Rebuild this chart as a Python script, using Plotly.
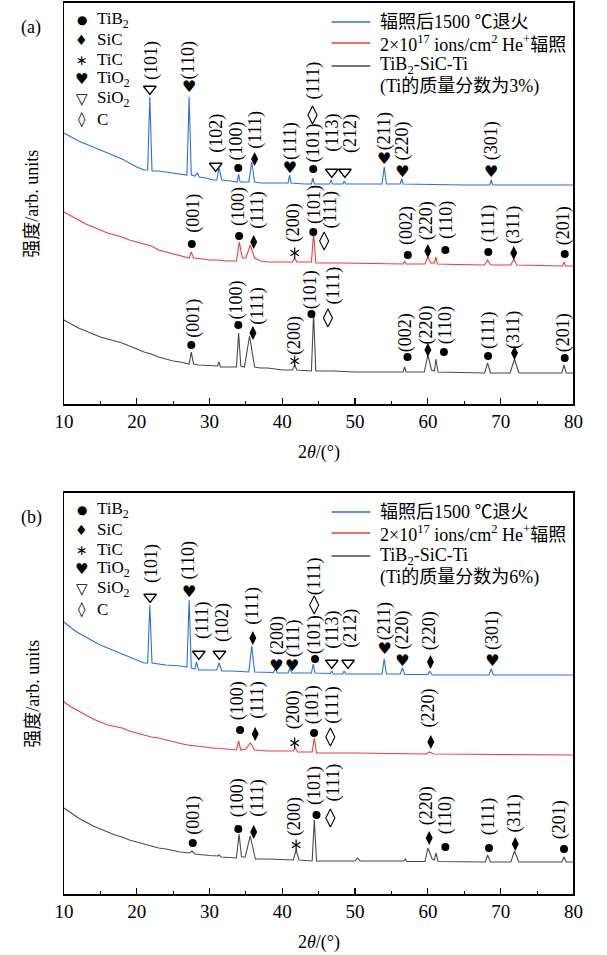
import plotly.graph_objects as go

# ---------------- data (2theta in degrees, intensity in arb. units, curves already offset) ----------------
# panel (a): TiB2-SiC-Ti, 3 wt% Ti
a_blue_t = [10, 11, 12, 13, 14, 15, 16, 17, 18, 19, 20, 21, 21.5, 21.8, 22.1, 23, 24, 25, 26, 26.9, 27.2, 27.5,
            28.0, 28.3, 28.6, 29.5, 30.5, 31.0, 31.3, 31.7, 33, 33.8, 34.0, 34.2, 35.4, 35.8, 36.2, 37, 39, 40.8,
            41.0, 41.2, 43, 44.0, 44.2, 44.4, 46.5, 46.7, 46.9, 48.3, 48.5, 48.7, 50, 53.7, 54.0, 54.3, 56.2, 56.4,
            56.6, 60, 65, 68.5, 68.7, 68.9, 75, 80]
a_blue_i = [67.75, 66.75, 65.75, 65, 64.25, 63.5, 62.75, 62, 61.25, 60.25, 59.25, 58.5, 58.5, 76.75, 58.25, 58.25,
            58, 57.75, 57.5, 57.25, 76.75, 57.25, 57, 57.75, 56.75, 56.5, 56, 56, 59, 56, 55.75, 55.5, 57.5, 55.5,
            55.5, 60.5, 55.5, 55.25, 55.25, 55.25, 57.25, 55.25, 55, 55, 56.5, 55, 55, 56, 55, 55, 55.75, 55, 55,
            55, 59.25, 55, 55, 56.25, 55, 54.875, 54.75, 54.75, 56, 54.75, 54.75, 54.75]
a_red_t = [10, 11, 12, 13, 14, 15, 16, 17, 18, 19, 20, 21, 22, 23, 24, 25, 26, 27.2, 27.5, 27.8, 29, 30, 31, 32.4,
           33.7, 34.1, 34.5, 35.0, 35.6, 36.2, 37, 38, 41.4, 41.7, 42.0, 44.0, 44.3, 44.6, 48, 52, 56.6, 56.8, 57.0,
           59.6, 60.0, 60.4, 60.9, 61.1, 61.3, 64, 67.8, 68.2, 68.6, 71.4, 71.8, 72.2, 78.5, 78.7, 78.9, 80]
a_red_i = [48, 47, 46, 45, 44.25, 43.5, 42.75, 42.25, 41.75, 41, 40.5, 40, 39.5, 38.5, 38, 37.5, 37, 36.5, 38, 36.5,
           36.25, 36, 36, 35.75, 35.75, 40.5, 36.5, 36.5, 39.75, 36.5, 35.75, 35.5, 35.5, 36.5, 35.5, 35.5, 42.75,
           35.25, 35.25, 35.125, 35, 35.75, 35, 35, 36.75, 35.25, 35.25, 36.75, 35, 34.875, 34.75, 36, 34.75,
           34.75, 36.25, 34.75, 34.5, 35.5, 34.5, 34.5]
a_black_t = [10, 11, 12, 13, 14, 15, 16, 17, 18, 19, 20, 21, 22, 23, 24, 25, 26, 27.2, 27.5, 27.8, 28.5, 30, 31.1,
             31.3, 31.5, 33.0, 33.7, 34.0, 34.3, 34.8, 35.5, 36.2, 37, 38, 40, 41.4, 41.7, 42, 44.0, 44.3, 44.6, 47,
             50, 56.6, 56.8, 57.0, 59.5, 60.0, 60.5, 60.9, 61.1, 61.4, 64, 67.8, 68.2, 68.6, 71.3, 71.9, 72.5, 78.4,
             78.7, 79.0, 80]
a_black_i = [21, 20, 19, 18.25, 17.5, 16.75, 16.25, 15.75, 15.25, 14.5, 13.75, 13, 12.5, 11.75, 11.25, 10.75, 10.5,
             10, 13, 10, 9.75, 9.5, 9.5, 10.5, 9.25, 9.25, 9.25, 17.75, 9.5, 9.25, 17, 9.25, 9, 9, 8.5, 8.5, 9.75,
             8.5, 8.25, 22.75, 8.25, 8.25, 8, 8, 9.25, 8, 8, 12.25, 8.5, 8.25, 11.25, 8, 7.875, 7.75, 10.25, 7.75,
             7.75, 11.25, 7.75, 7.75, 9.75, 7.75, 7.75]

# panel (b): TiB2-SiC-Ti, 6 wt% Ti
b_blue_t = [10, 11, 12, 13, 14, 15, 16, 17, 18, 19, 20, 21, 21.5, 21.8, 22.1, 24, 26, 26.9, 27.2, 27.5, 28.0, 28.2,
            28.5, 30, 31.0, 31.3, 31.7, 33, 35.4, 35.8, 36.2, 38.8, 39.05, 39.3, 40.8, 41.05, 41.3, 44.0, 44.25,
            44.5, 46.6, 46.8, 47.0, 48.3, 48.5, 48.7, 53.7, 54.0, 54.3, 56.2, 56.5, 56.8, 60.0, 60.25, 60.6, 68.4,
            68.7, 69.0, 80]
b_blue_i = [68, 66.5, 65.25, 64.25, 63.25, 62.25, 61.5, 60.75, 60, 59.25, 58.5, 57.75, 57.75, 72.25, 57.75, 57.25,
            57, 56.75, 73.5, 56.5, 56.25, 58, 56, 56, 56, 57.75, 55.75, 55.75, 55.5, 62, 55.5, 55.375, 56.5, 55.25,
            55.25, 56.5, 55.25, 55.25, 57.5, 55.25, 55.125, 55.75, 55, 55, 55.75, 55, 55, 58.75, 55, 55, 56.5,
            54.875, 54.875, 55.75, 54.75, 54.75, 56.25, 54.75, 54.75]
b_red_t = [10, 11, 12, 13, 14, 15, 16, 17, 18, 19, 20, 21, 22, 23, 24, 25, 26, 27, 28, 29, 30, 31, 32.4, 33.7, 34.0,
           34.3, 35.0, 35.6, 36.2, 38, 41.5, 41.8, 42.1, 44.1, 44.4, 44.7, 50, 59.8, 60.2, 60.8, 70, 80]
b_red_i = [48, 46.75, 45.75, 44.75, 43.75, 43, 42.25, 41.875, 41.5, 40.75, 40.25, 39.75, 39.25, 39, 38.5, 38,
           37.625, 37.25, 37, 36.75, 36.5, 36.375, 36.25, 36, 38.25, 36, 36.25, 37.75, 36, 35.75, 35.75, 36.5,
           35.5, 35.5, 39, 35.25, 35.25, 35, 35.5, 35, 34.875, 34.75]
b_black_t = [10, 11, 12, 13, 14, 15, 16, 17, 18, 19, 20, 21, 22, 23, 24, 25, 26, 27.2, 27.6, 28, 29, 30, 31.1, 31.3,
             31.6, 33.7, 34.06, 34.4, 34.9, 35.6, 36.3, 38, 41.5, 41.9, 42.3, 44.1, 44.4, 44.7, 50.0, 50.3, 50.7,
             56.7, 56.9, 57.1, 59.6, 60.0, 60.6, 60.9, 61.1, 61.4, 67.9, 68.2, 68.6, 71.4, 71.9, 72.5, 78.4, 78.7,
             79.0, 80]
b_black_i = [21.5, 20.25, 19, 18, 17, 16.25, 15.5, 14.75, 14.25, 13.5, 13, 12.5, 12, 11.5, 11.25, 10.875, 10.5,
             10.25, 10.75, 10, 9.75, 9.625, 9.5, 9.75, 9.25, 9, 15, 9.25, 9.25, 14.5, 8.75, 8.75, 8.5, 11, 8.5,
             8.25, 18.5, 8.25, 8.25, 9, 8.25, 8.25, 8.75, 8.125, 8.125, 11.5, 8.75, 8.5, 10.25, 8.125, 8, 9.75, 8,
             8, 10.75, 8, 8, 9.25, 8, 8]

# phase markers: (phase, 2theta, intensity)
a_marks = [("SiO2", 21.8, 78.75), ("TiO2", 27.2, 79), ("SiO2", 30.85, 59.5), ("TiB2", 33.95, 59),
           ("SiC", 36.2, 61.25), ("TiO2", 41.05, 58.75), ("TiB2", 44.25, 58.75), ("C", 44.15, 72.25),
           ("SiO2", 46.8, 58), ("SiO2", 48.6, 58), ("TiO2", 54.0, 61), ("TiO2", 56.5, 57.75), ("TiO2", 68.7, 57.75),
           ("TiB2", 27.57, 40), ("TiB2", 34.06, 42), ("SiC", 36.07, 40.5), ("TiC", 41.7, 37.75),
           ("TiB2", 44.26, 43), ("C", 45.75, 40.75), ("TiB2", 57.24, 37.25), ("SiC", 60.0, 38.25),
           ("TiB2", 62.4, 38.5), ("TiB2", 68.3, 38), ("SiC", 71.8, 37.75), ("TiB2", 78.8, 37.5),
           ("TiB2", 27.5, 14.75), ("TiB2", 33.96, 19.75), ("SiC", 35.97, 17.75), ("TiC", 41.7, 10.75),
           ("TiB2", 44.0, 22.5), ("C", 46.27, 21.5), ("TiB2", 57.2, 11.75), ("SiC", 60.0, 13.5),
           ("TiB2", 62.2, 13), ("TiB2", 68.27, 12), ("SiC", 71.9, 12.75), ("TiB2", 78.8, 11.5)]
a_labels = [("(101)", 21.95, 86), ("(110)", 27.1, 86), ("(102)", 30.85, 67.75), ("(100)", 33.7, 65.75),
            ("(111)", 36.2, 68.5), ("(111)", 41.05, 65.75), ("(101)", 44.15, 65.25), ("(111)", 44.15, 80.75),
            ("(113)", 46.8, 67.75), ("(212)", 49.3, 67.75), ("(211)", 54.0, 68.25), ("(220)", 56.5, 65.75),
            ("(301)", 68.7, 65.75),
            ("(001)", 27.7, 47.75), ("(100)", 33.9, 49.5), ("(111)", 36.5, 48.5), ("(200)", 41.5, 45.25),
            ("(101)", 44.36, 49.75), ("(111)", 46.5, 48.5), ("(002)", 57.0, 44.5), ("(220)", 59.77, 45.75),
            ("(110)", 62.5, 46), ("(111)", 68.3, 45.25), ("(311)", 71.7, 44.75), ("(201)", 78.6, 44.5),
            ("(001)", 27.7, 21.5), ("(100)", 33.7, 26), ("(111)", 36.5, 24.5), ("(200)", 41.6, 17.25),
            ("(101)", 43.85, 28.5), ("(111)", 46.9, 29.5), ("(002)", 56.9, 17.75), ("(220)", 59.8, 19.75),
            ("(110)", 62.4, 19.75), ("(111)", 68.27, 18.5), ("(311)", 71.7, 18.5), ("(201)", 78.6, 17.75)]

b_marks = [("SiO2", 21.84, 74.25), ("TiO2", 27.2, 75.25), ("SiO2", 28.54, 60), ("SiO2", 31.37, 60),
           ("SiC", 35.95, 64), ("TiO2", 39.18, 56.75), ("TiO2", 41.36, 56.75), ("TiB2", 44.5, 58.75),
           ("C", 44.38, 72.25), ("SiO2", 46.8, 57.75), ("SiO2", 49.03, 57.75), ("TiO2", 54.05, 61),
           ("TiO2", 56.5, 58), ("SiC", 60.35, 58), ("TiO2", 68.86, 58),
           ("TiB2", 34.2, 41), ("SiC", 36.28, 40), ("TiC", 41.7, 37.75), ("TiB2", 44.36, 40.25),
           ("C", 46.6, 39.25), ("SiC", 60.4, 38),
           ("TiB2", 27.7, 12.75), ("TiB2", 33.96, 16.25), ("SiC", 36.07, 15.5), ("TiC", 41.9, 12.25),
           ("TiB2", 44.7, 19.75), ("C", 46.6, 19), ("SiC", 60.18, 14), ("TiB2", 62.4, 11.75),
           ("TiB2", 68.4, 11.5), ("SiC", 72.0, 12.5), ("TiB2", 78.7, 11.25)]
b_labels = [("(101)", 21.95, 82.75), ("(110)", 27.1, 83.5), ("(111)", 28.98, 68.5), ("(102)", 31.73, 67.75),
            ("(111)", 35.8, 72), ("(200)", 39.27, 64.75), ("(111)", 41.49, 64), ("(101)", 44.38, 64.75),
            ("(111)", 44.38, 79.5), ("(113)", 46.8, 66), ("(212)", 49.26, 66.5), ("(211)", 54.0, 68.25),
            ("(220)", 56.5, 66), ("(220)", 60.2, 65.75), ("(301)", 68.8, 66),
            ("(100)", 33.8, 48.25), ("(111)", 36.5, 48.5), ("(200)", 41.5, 46), ("(101)", 44.1, 47.25),
            ("(111)", 46.8, 47.25), ("(220)", 60.08, 46.5),
            ("(001)", 27.7, 19.75), ("(100)", 33.8, 24), ("(111)", 36.5, 24), ("(200)", 41.6, 19.5),
            ("(101)", 44.36, 27), ("(111)", 46.9, 27.75), ("(220)", 59.77, 22), ("(110)", 62.4, 19.75),
            ("(111)", 68.3, 19.5), ("(311)", 71.9, 20.25), ("(201)", 78.05, 18.5)]

series_names = ["辐照后1500 ℃退火", "2×10<sup>17</sup> ions/cm<sup>2</sup> He<sup>+</sup>辐照", "TiB<sub>2</sub>-SiC-Ti"]
sample_notes = {"a": "(Ti的质量分数为3%)", "b": "(Ti的质量分数为6%)"}
phase_names = ["TiB<sub>2</sub>", "SiC", "TiC", "TiO<sub>2</sub>", "SiO<sub>2</sub>", "C"]
phase_glyphs = ["●", "♦", "∗", "♥", "▽", "◊"]
x_ticks = [10, 20, 30, 40, 50, 60, 70, 80]

# ---------------- styling / layout ----------------
W, H = 607, 955
X0, X1 = 56.7, 582.7
PANEL_PX = {"a": (2.7, 404.3), "b": (492.7, 894.3)}
BLUE, RED, GRAY = "#2b6fdf", "#ef3d3d", "#4a4a4a"
SERIF = "Liberation Serif, 'Noto Sans CJK SC', serif"
GLYPH = "DejaVu Sans"
YR = [-0.075, 100.325]
FS = 18


def fx(p):
    return p / W


def fy(p):
    return 1 - p / H


def paper_ann(text, x, y, size=FS, xanchor="center", family=SERIF, **kw):
    return dict(text=text, x=fx(x), y=fy(y), xref="paper", yref="paper", showarrow=False,
                xanchor=xanchor, yanchor="middle", font=dict(family=family, size=size, color="black"), **kw)


fig = go.Figure()
panels = {
    "a": dict(ax="", curves=[(a_blue_t, a_blue_i, BLUE), (a_red_t, a_red_i, RED), (a_black_t, a_black_i, GRAY)],
              marks=a_marks, labels=a_labels),
    "b": dict(ax="2", curves=[(b_blue_t, b_blue_i, BLUE), (b_red_t, b_red_i, RED), (b_black_t, b_black_i, GRAY)],
              marks=b_marks, labels=b_labels),
}

annotations = []
shapes = []
for key, pd_ in panels.items():
    xa, ya = "x" + pd_["ax"], "y" + pd_["ax"]
    for t, i, c in pd_["curves"]:
        fig.add_trace(go.Scatter(x=t, y=i, mode="lines", line=dict(color=c, width=1.1),
                                 xaxis=xa, yaxis=ya, showlegend=False, hoverinfo="skip"))
    groups = {}
    for ph, t, i in pd_["marks"]:
        groups.setdefault(ph, ([], []))
        groups[ph][0].append(t)
        groups[ph][1].append(i)
    for ph, (ts, is_) in groups.items():
        common = dict(x=ts, y=is_, xaxis=xa, yaxis=ya, showlegend=False, hoverinfo="skip")
        if ph == "TiB2":
            fig.add_trace(go.Scatter(mode="markers", marker=dict(symbol="circle", size=8, color="black"), **common))
        elif ph == "SiC":
            fig.add_trace(go.Scatter(mode="markers", marker=dict(symbol="diamond-tall", size=10, color="black"), **common))
        elif ph == "SiO2":
            fig.add_trace(go.Scatter(mode="markers", marker=dict(symbol="triangle-down-open", size=11, color="black",
                                                                  line=dict(width=1.3, color="black")), **common))
        elif ph == "C":
            fig.add_trace(go.Scatter(mode="markers", marker=dict(symbol="diamond-tall-open", size=13, color="black",
                                                                  line=dict(width=1.1, color="black")), **common))
        elif ph == "TiC":
            for sym in ("y-up-open", "y-down-open"):
                fig.add_trace(go.Scatter(mode="markers", marker=dict(symbol=sym, size=7, color="black",
                                                                      line=dict(width=1.2, color="black")), **common))
        elif ph == "TiO2":
            fig.add_trace(go.Scatter(mode="text", text=["♥"] * len(ts), textposition="middle center",
                                     textfont=dict(family=GLYPH, size=16, color="black"), **common))
    for txt, t, i in pd_["labels"]:
        annotations.append(dict(text=txt, x=t, y=i, xref=xa, yref=ya, showarrow=False, textangle=-90,
                                xanchor="center", yanchor="middle",
                                font=dict(family=SERIF, size=18, color="black")))

    top, bot = PANEL_PX[key]
    off = top - 2.7
    annotations.append(paper_ann("(%s)" % key, 23, 27 + off))
    annotations.append(paper_ann("强度/arb. units", 24, (top + bot) / 2, textangle=-90))
    annotations.append(paper_ann("2<i>θ</i>/(°)", (X0 + X1) / 2, bot + 48))
    # phase legend
    for k, (nm, gl) in enumerate(zip(phase_names, phase_glyphs)):
        yy = 20 + 19.8 * k + off
        gsize = {"●": 12, "♦": 14, "∗": 14, "♥": 15, "▽": 15, "◊": 15}[gl]
        annotations.append(paper_ann(gl, 75, yy, size=gsize, family=GLYPH))
        annotations.append(paper_ann(nm, 89, yy, size=17, xanchor="left"))
    # series legend
    rows = [22, 43, 66]
    for k, (nm, c) in enumerate(zip(series_names, [BLUE, RED, GRAY])):
        yy = rows[k] + off
        shapes.append(dict(type="line", xref="paper", yref="paper", x0=fx(333), x1=fx(373), y0=fy(yy), y1=fy(yy),
                           line=dict(color=c, width=1.3)))
        annotations.append(paper_ann(nm, 381, yy, xanchor="left"))
    annotations.append(paper_ann(sample_notes[key], 381, 87 + off, xanchor="left"))


def xaxis_cfg(top, bot, anchor):
    return dict(domain=[fx(X0), fx(X1)], range=[10, 80], anchor=anchor, showline=True, mirror=True,
                linecolor="black", linewidth=1.3, ticks="inside", ticklen=6, tickwidth=1.2, tickcolor="black",
                tickvals=x_ticks, showgrid=False, zeroline=False,
                minor=dict(ticks="inside", ticklen=3.5, tickwidth=1, tickcolor="black", dtick=5, tick0=5,
                           showgrid=False),
                tickfont=dict(family=SERIF, size=19, color="black"))


def yaxis_cfg(top, bot, anchor):
    return dict(domain=[fy(bot), fy(top)], range=YR, anchor=anchor, showline=True, mirror=True,
                linecolor="black", linewidth=1.3, ticks="", showticklabels=False, showgrid=False, zeroline=False)


fig.update_layout(
    width=W, height=H, margin=dict(l=0, r=0, t=0, b=0),
    plot_bgcolor="white", paper_bgcolor="white",
    xaxis=xaxis_cfg(*PANEL_PX["a"], "y"), yaxis=yaxis_cfg(*PANEL_PX["a"], "x"),
    xaxis2=xaxis_cfg(*PANEL_PX["b"], "y2"), yaxis2=yaxis_cfg(*PANEL_PX["b"], "x2"),
    annotations=annotations, shapes=shapes, showlegend=False,
)
fig.write_html("out.html", config={"displayModeBar": False, "staticPlot": True},
               post_script="document.body.style.margin='0';document.body.style.overflow='hidden';")
